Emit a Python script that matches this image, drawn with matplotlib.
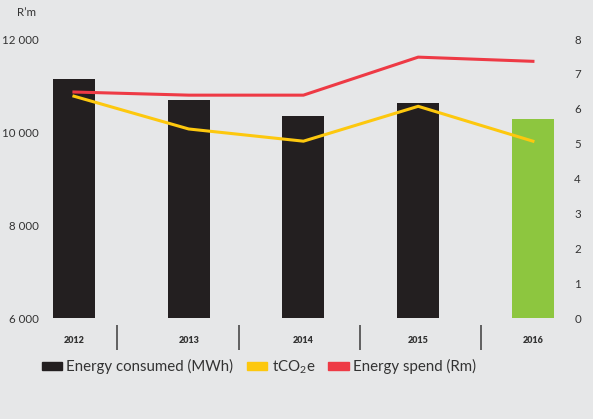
import matplotlib.pyplot as plt
from matplotlib.patches import Patch

plt.rcParams['font.family'] = ['Lato', 'DejaVu Sans']
plt.rcParams['mathtext.fontset'] = 'custom'
plt.rcParams['mathtext.rm'] = 'Lato'
plt.rcParams['mathtext.it'] = 'Lato'

years = ['2012', '2013', '2014', '2015', '2016']
energy_mwh = [11150, 10680, 10350, 10630, 10270]
tco2e = [6.36, 5.42, 5.07, 6.07, 5.07]
spend_rm = [6.48, 6.39, 6.39, 7.48, 7.36]

bg = '#e6e7e8'
black = '#231f20'
green = '#8dc63f'
red = '#ee3a45'
yellow = '#fdc80e'
text_col = '#333333'

W, H = 593, 419
fig = plt.figure(figsize=(W / 100, H / 100), dpi=100, facecolor=bg)
# axes box in pixels: x 44..570, y 39..318
ax = fig.add_axes([44 / W, (H - 318) / H, (570 - 44) / W, (318 - 39) / H])
ax.set_facecolor(bg)

x = list(range(len(years)))
colors = [black] * (len(years) - 1) + [green]
ax.bar(x, energy_mwh, width=0.366, color=colors, zorder=2)
ax.set_ylim(6000, 12000)
ax.set_xlim(-0.261, 4.323)
ax.set_yticks([6000, 8000, 10000, 12000])
ax.set_yticklabels(['6 000', '8 000', '10 000', '12 000'])

ax2 = ax.twinx()
ax2.set_ylim(0, 8)
ax2.set_yticks(range(9))
ax2.plot(x, tco2e, color=yellow, lw=2.2, zorder=3)
ax2.plot(x, spend_rm, color=red, lw=2.2, zorder=4)

for a in (ax, ax2):
    for s in a.spines.values():
        s.set_visible(False)
ax.tick_params(axis='y', length=0, pad=4, labelsize=8.3, labelcolor=text_col)
ax2.tick_params(axis='y', length=0, pad=3, labelsize=8.3, labelcolor=text_col)

ax.set_xticks(x)
ax.set_xticklabels(years, fontweight='heavy', fontsize=6.5, color=text_col)
ax.tick_params(axis='x', length=0, pad=13)

# category separators below the axis
sep_pos = [0.375, 1.438, 2.49, 3.547]
ax.vlines(sep_pos, -0.025, -0.115, transform=ax.get_xaxis_transform(),
          color='#555555', lw=1.3, clip_on=False)

fig.text(17 / W, 1 - 13 / H, 'R\u2019m', fontsize=8.3, color=text_col,
         ha='left', va='center')

handles = [Patch(color=black), Patch(color=yellow), Patch(color=red)]
labels = ['Energy consumed (MWh)', 'tCO$_2$e', 'Energy spend (Rm)']
fig.legend(handles, labels, loc='center left', bbox_to_anchor=(28 / W, 1 - 367 / H),
           ncol=3, frameon=False, fontsize=10.8, handlelength=1.35, handleheight=0.42,
           handletextpad=0.3, columnspacing=0.9, labelcolor=text_col)

fig.savefig('out.png', dpi=100, facecolor=bg)
